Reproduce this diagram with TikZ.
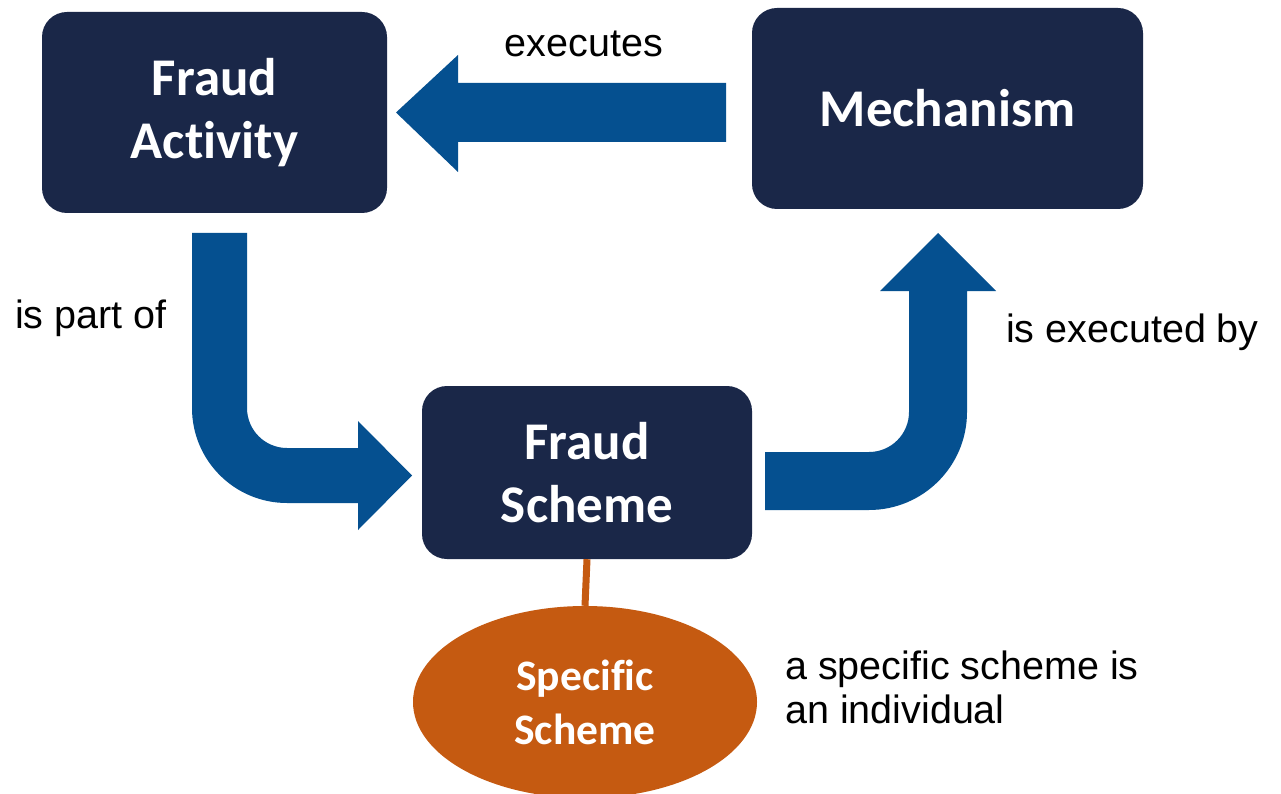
\documentclass[tikz,border=0pt]{standalone}
\usepackage{fontspec}
\setmainfont{Liberation Sans}
\newfontfamily\boxfont[Ligatures={NoCommon}]{Carlito}
\usetikzlibrary{shapes.geometric}
\definecolor{navy}{RGB}{26,39,72}
\definecolor{arrowblue}{RGB}{5,80,144}
\definecolor{rust}{RGB}{197,90,17}
\begin{document}
\begin{tikzpicture}[x=1pt,y=-1pt,
  box/.style={rectangle,rounded corners=25pt,fill=navy,text=white,inner sep=0pt,
    align=center,font=\boxfont\bfseries\fontsize{53}{63.5}\selectfont},
  blob/.style={ellipse,fill=rust,text=white,inner sep=0pt,align=center,
    font=\boxfont\bfseries\fontsize{43.5}{54}\selectfont},
  lbl/.style={text=black,inner sep=0pt,font=\fontsize{39.5}{44}\selectfont},
  blockarrow/.style={fill=arrowblue,draw=none}]
\useasboundingbox (0,0) rectangle (1281,794);
\fill[white] (0,0) rectangle (1281,794);

% nodes
\node[box,minimum width=345pt,minimum height=201pt] (FA) at (214.5,112.5) {Fraud\\Activity};
\node[box,minimum width=391pt,minimum height=201pt] (M) at (947.5,108.5) {Mechanism};
\node[box,minimum width=330pt,minimum height=173pt] (FS) at (587,472.5) {Fraud\\Scheme};
\node[blob,minimum width=344pt,minimum height=192pt] (SS) at (585,702) {Specific\\Scheme};

% connector to specific scheme
\draw[rust,line width=7pt] (FS.south) -- (SS.north);

% executes arrow (Mechanism -> Fraud Activity)
\fill[blockarrow] (726,83) -- (458,83) -- (458,55) -- (396,112.5) -- (458,172)
  -- (458,142) -- (726,142) -- cycle;

% is part of arrow (Fraud Activity -> Fraud Scheme)
\fill[blockarrow] (192,233) -- (192,408) arc[start angle=180,end angle=90,radius=95]
  -- (358,503) -- (358,530) -- (412,475.5) -- (358,421) -- (358,448) -- (287,448)
  arc[start angle=90,end angle=180,radius=40] -- (247,233) -- cycle;

% is executed by arrow (Fraud Scheme -> Mechanism)
\fill[blockarrow] (765,452) -- (869,452) arc[start angle=90,end angle=0,radius=40]
  -- (909,291) -- (880,291) -- (938,233) -- (996,291) -- (967,291) -- (967,412)
  arc[start angle=0,end angle=90,radius=98] -- (765,510) -- cycle;

% labels
\node[lbl,anchor=base] (lexec) at (584,57) {executes};
\node[lbl,anchor=base west] (lpart) at (15,328) {is part of};
\node[lbl,anchor=base west] (lexby) at (1006,342) {is executed by};
\node[lbl,anchor=base west] (lind1) at (785,679) {a specific scheme is};
\node[lbl,anchor=base west] (lind2) at (785,723) {an individual};
\end{tikzpicture}
\end{document}
